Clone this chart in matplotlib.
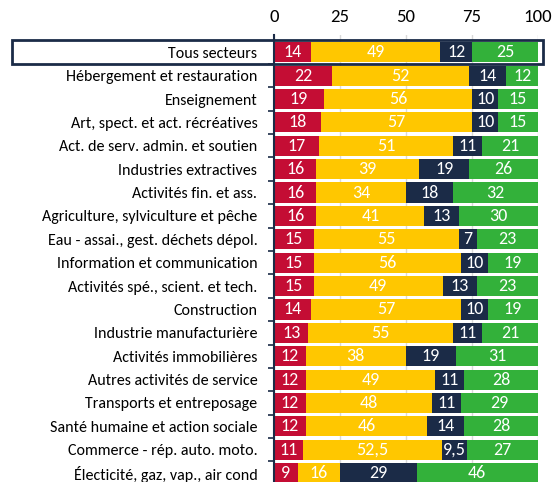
import matplotlib.pyplot as plt
import matplotlib.transforms as mtransforms
from matplotlib.patches import Rectangle
import numpy as np

plt.rcParams['font.family'] = ['Carlito', 'Liberation Sans Narrow', 'Lato', 'DejaVu Sans']

# Répartition par secteur (en %)
secteurs = [
    "Tous secteurs",
    "Hébergement et restauration",
    "Enseignement",
    "Art, spect. et act. récréatives",
    "Act. de serv. admin. et soutien",
    "Industries extractives",
    "Activités fin. et ass.",
    "Agriculture, sylviculture et pêche",
    "Eau - assai., gest. déchets dépol.",
    "Information et communication",
    "Activités spé., scient. et tech.",
    "Construction",
    "Industrie manufacturière",
    "Activités immobilières",
    "Autres activités de service",
    "Transports et entreposage",
    "Santé humaine et action sociale",
    "Commerce - rép. auto. moto.",
    "Électicité, gaz, vap., air cond",
]
rouge = [14, 22, 19, 18, 17, 16, 16, 16, 15, 15, 15, 14, 13, 12, 12, 12, 12, 11, 9]
jaune = [49, 52, 56, 57, 51, 39, 34, 41, 55, 56, 49, 57, 55, 38, 49, 48, 46, 52.5, 16]
marine = [12, 14, 10, 10, 11, 19, 18, 13, 7, 10, 13, 10, 11, 19, 11, 11, 14, 9.5, 29]
vert = [25, 12, 15, 15, 21, 26, 32, 30, 23, 19, 23, 19, 21, 31, 28, 29, 28, 27, 46]

series = [rouge, jaune, marine, vert]
couleurs = ["#C40D34", "#FFC700", "#1B2B47", "#33B13A"]
ticks_x = [0, 25, 50, 75, 100]

fig = plt.figure(figsize=(5.58, 4.82), dpi=100)
ax = fig.add_axes([0.491, 0.0, 0.473, 0.927])

y = np.arange(len(secteurs))
gauche = np.zeros(len(secteurs))
for vals, c in zip(series, couleurs):
    vals = np.array(vals, dtype=float)
    ax.barh(y, vals, left=gauche, height=0.86, color=c, zorder=3)
    for yi, g, v in zip(y, gauche, vals):
        txt = f"{v:g}".replace(".", ",")
        ax.text(g + v / 2, yi, txt, ha="center", va="center",
                color="white", fontsize=13, zorder=4)
    gauche += vals

ax.set_xlim(0, 100)
ax.set_ylim(len(secteurs) - 0.62, -0.73)

ax.xaxis.tick_top()
ax.set_xticks(ticks_x)
ax.set_xticklabels([str(t) for t in ticks_x], fontsize=13.5)
ax.tick_params(axis="x", length=0, pad=7)
ax.grid(axis="x", color="#D9D9D9", linewidth=1, zorder=0)

ax.set_yticks(y)
ax.set_yticklabels(secteurs, fontsize=11.5)
ax.set_yticks(y[:-1] + 0.5, minor=True)
ax.tick_params(axis="y", which="major", length=0, pad=12)
ax.tick_params(axis="y", which="minor", length=4, width=1.2, color="#1B2B47")

for s in ["top", "right", "bottom"]:
    ax.spines[s].set_visible(False)
ax.spines["left"].set_color("#1B2B47")
ax.spines["left"].set_linewidth(1.5)
ax.spines["left"].set_zorder(5)

# cadre autour de la ligne "Tous secteurs"
trans = mtransforms.blended_transform_factory(fig.transFigure, ax.transData)
cadre = Rectangle((0.0215, -0.52), 0.973 - 0.0215, 1.04, transform=trans,
                  fill=False, edgecolor="#1B2B47", linewidth=2, clip_on=False, zorder=6)
fig.add_artist(cadre)

plt.savefig("out.png", dpi=100)
